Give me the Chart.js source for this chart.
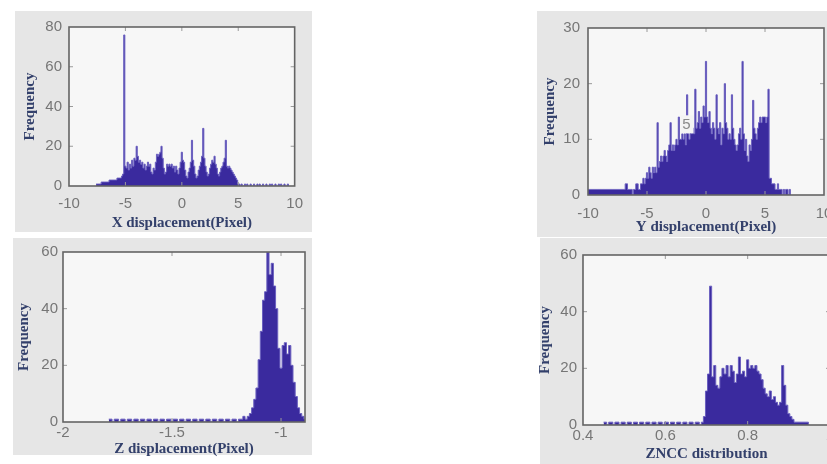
<!DOCTYPE html>
<html>
<head>
<meta charset="utf-8">
<script src="https://cdn.jsdelivr.net/npm/chart.js@4"></script>
<style>
  html, body { margin: 0; padding: 0; background: #fff; width: 827px; height: 464px; overflow: hidden; position: relative; }
  .panel { position: absolute; background: #e6e6e6; }
  canvas { position: absolute; }
</style>
</head>
<body>
<div class="panel" style="left:15px;top:11px;width:297px;height:221px"></div>
<div class="panel" style="left:537px;top:11px;width:300px;height:226px"></div>
<div class="panel" style="left:13px;top:238px;width:299px;height:217px"></div>
<div class="panel" style="left:540px;top:238px;width:300px;height:226px"></div>

<canvas id="histX" width="297" height="221" style="left:15px;top:11px"></canvas>
<canvas id="histY" width="310" height="226" style="left:537px;top:11px"></canvas>
<canvas id="histZ" width="299" height="226" style="left:13px;top:238px"></canvas>
<canvas id="histC" width="320" height="226" style="left:530px;top:238px"></canvas>

<script>
// X displacement: 0.1 px bins, first bin centred at -7.6
const xStart = -7.6, xStep = 0.1;
const xCounts = [
  1,1,1,1,1,2,2,2,2,2,
  2,2,3,3,3,3,3,3,3,4,
  4,4,4,5,6,76,10,9,12,8,
  11,9,13,10,14,13,20,15,12,13,
  11,12,9,11,8,10,12,10,11,7,
  6,9,8,12,16,15,16,17,20,14,
  9,6,7,11,10,11,10,11,9,10,
  7,10,8,6,9,12,17,13,12,8,
  5,4,7,9,12,23,13,10,6,4,
  5,8,10,12,15,29,14,10,7,5,
  6,9,11,13,12,15,11,9,6,5,
  7,9,10,12,14,23,10,9,10,9,
  8,7,6,5,4,3,1,1,0,1,
  0,0,1,0,1,0,0,1,0,0,
  1,0,0,1,0,1,0,0,1,0,
  0,1,0,0,1,0,1,0,0,1,
  0,0,1,0,1,0,0,1,0,0,
  1,0
];
const xTicks = [-10, -5, 0, 5, 10];
const xFreqTicks = [0, 20, 40, 60, 80];

// Y displacement: 0.1 px bins, first bin centred at -10
const yStart = -10, yStep = 0.1;
const yCounts = [
  1,1,1,1,1,1,1,1,1,1,
  1,1,1,1,1,1,1,1,1,1,
  1,1,1,1,1,1,1,1,1,1,
  1,1,2,2,1,1,1,1,0,1,
  1,2,2,1,1,2,2,3,2,3,
  4,3,5,4,3,5,4,5,4,13,
  5,6,7,6,7,8,7,6,8,9,
  13,8,9,8,9,10,9,14,10,10,
  11,10,11,9,18,11,10,12,11,12,
  11,19,12,13,15,12,14,13,16,14,
  24,14,13,15,12,11,13,12,10,18,
  12,11,13,9,12,11,20,13,12,10,
  11,10,18,12,10,9,8,9,11,12,
  10,24,11,8,10,7,6,9,8,10,
  17,12,11,10,12,13,14,13,14,14,
  14,13,14,19,3,3,2,2,2,1,
  1,2,1,1,1,0,1,0,1,1,
  0,1,0
];
const yTicks = [-10, -5, 0, 5, 10];
const yFreqTicks = [0, 10, 20, 30];

// Z displacement: 0.01 px bins, first bin centred at -1.79
const zStart = -1.79, zStep = 0.01;
const zCounts = [
  1,1,0,1,1,0,1,1,0,1,1,0,1,1,0,1,1,0,1,1,0,1,1,0,1,1,0,1,1,0,
  1,1,0,1,1,0,1,1,0,1,1,0,1,1,0,1,1,0,1,1,0,1,1,0,1,1,0,1,1,0,
  1,1,2,1,2,3,5,8,12,22,
  32,43,46,60,52,56,48,40,26,19,
  27,28,24,27,20,14,9,5,3,2,
  1
];
const zTicks = [-2, -1.5, -1];
const zFreqTicks = [0, 20, 40, 60];

// ZNCC: 0.005 bins, first bin centred at 0.45
const cStart = 0.45, cStep = 0.005;
const cCounts = [
  1,1,0,1,1,0,1,1,0,1,1,0,1,1,0,1,1,0,1,1,0,1,1,0,
  1,1,0,1,1,0,1,1,0,1,1,0,1,1,0,1,1,0,1,1,0,1,1,0,1,
  3,12,18,49,17,21,14,13,17,20,
  18,21,17,21,19,15,18,24,18,19,
  17,23,20,21,20,21,19,18,16,13,
  11,10,12,9,10,8,7,8,21,14,
  7,4,3,2,1,1,1,1,1,1,
  1,0
];
const cTicks = [0.4, 0.6, 0.8, 1];
const cFreqTicks = [0, 20, 40, 60];

const FILL = '#3a2a9e';
const EDGE = '#6a5fbf';
const PLOT_BG = '#f7f7f7';
const FRAME = '#646464';
const TICK_FONT = { family: 'Liberation Sans', size: 15 };
const TITLE_FONT = { family: 'Liberation Serif', size: 15, weight: 'bold' };
const TICK_COLOR = '#767676';
const TITLE_COLOR = '#33406b';

// plot background, box frame with inward ticks, optional stray label
const framePlugin = {
  id: 'frame',
  beforeDatasetsDraw(chart) {
    const { ctx, chartArea: a } = chart;
    ctx.save();
    ctx.fillStyle = PLOT_BG;
    ctx.fillRect(a.left, a.top, a.right - a.left, a.bottom - a.top);
    ctx.restore();
  },
  afterDatasetsDraw(chart, args, opts) {
    const { ctx, chartArea: a, scales } = chart;
    ctx.save();
    ctx.strokeStyle = '#9a9a9a';
    ctx.lineWidth = 1;
    ctx.beginPath();
    for (const t of scales.x.ticks) {
      const px = scales.x.getPixelForValue(t.value);
      if (px <= a.left + 1 || px >= a.right - 1) continue;
      ctx.moveTo(px, a.bottom); ctx.lineTo(px, a.bottom - 4);
      ctx.moveTo(px, a.top); ctx.lineTo(px, a.top + 4);
    }
    for (const t of scales.y.ticks) {
      const py = scales.y.getPixelForValue(t.value);
      if (py <= a.top + 1 || py >= a.bottom - 1) continue;
      ctx.moveTo(a.left, py); ctx.lineTo(a.left + 4, py);
      ctx.moveTo(a.right, py); ctx.lineTo(a.right - 4, py);
    }
    ctx.stroke();
    ctx.strokeStyle = FRAME;
    ctx.lineWidth = 1.6;
    ctx.strokeRect(a.left, a.top, a.right - a.left, a.bottom - a.top);

    if (opts.note) {
      const nx = scales.x.getPixelForValue(opts.note.x);
      const ny = scales.y.getPixelForValue(opts.note.y);
      ctx.fillStyle = '#f4f4f4';
      ctx.fillRect(nx - 6, ny - 9, 13, 18);
      ctx.fillStyle = '#8a8a8a';
      ctx.font = '15px "Liberation Sans"';
      ctx.textAlign = 'center';
      ctx.textBaseline = 'middle';
      ctx.fillText(opts.note.text, nx, ny + 1);
    }
    ctx.restore();
  }
};

function histogram(id, o) {
  const canvas = document.getElementById(id);
  const w = canvas.width, h = canvas.height;
  const points = o.counts.map((c, i) => ({ x: o.start + i * o.step, y: c }));

  new Chart(canvas, {
    type: 'line',
    data: {
      datasets: [{
        data: points,
        stepped: 'middle',
        fill: 'origin',
        backgroundColor: FILL,
        borderColor: EDGE,
        borderWidth: 1,
        pointRadius: 0
      }]
    },
    options: {
      responsive: false,
      animation: false,
      devicePixelRatio: 1,
      layout: { padding: { left: 0, top: o.area.top, right: w - o.area.right, bottom: 0 } },
      plugins: {
        legend: { display: false },
        tooltip: { enabled: false },
        frame: { note: o.note || null }
      },
      scales: {
        x: {
          type: 'linear',
          min: o.xMin,
          max: o.xMax,
          afterBuildTicks: s => { s.ticks = o.xTicks.map(v => ({ value: v })); },
          afterFit: s => { s.height = h - o.area.bottom; },
          grid: { display: false, drawTicks: false },
          border: { display: false },
          ticks: {
            font: TICK_FONT, color: TICK_COLOR, padding: o.xPad,
            maxRotation: 0, autoSkip: false, callback: v => String(v)
          },
          title: {
            display: true, text: o.xTitle, font: TITLE_FONT, color: TITLE_COLOR,
            padding: { top: 0, bottom: o.xTitlePad }
          }
        },
        y: {
          min: 0,
          max: o.yMax,
          afterBuildTicks: s => { s.ticks = o.yTicks.map(v => ({ value: v })); },
          afterFit: s => { s.width = o.area.left; },
          grid: { display: false, drawTicks: false },
          border: { display: false },
          ticks: { font: TICK_FONT, color: TICK_COLOR, padding: o.yPad, callback: v => String(v) },
          title: {
            display: true, text: 'Frequency', font: TITLE_FONT, color: TITLE_COLOR,
            padding: { top: o.yTitlePad, bottom: 0 }
          }
        }
      }
    },
    plugins: [framePlugin]
  });
}

histogram('histX', {
  counts: xCounts, start: xStart, step: xStep,
  xMin: -10, xMax: 10, xTicks: xTicks, yMax: 80, yTicks: xFreqTicks,
  area: { left: 54, top: 13, right: 281, bottom: 175 },
  xPad: 9, yPad: 7, xTitlePad: 0, yTitlePad: 6,
  xTitle: 'X displacement(Pixel)'
});

histogram('histY', {
  counts: yCounts, start: yStart, step: yStep,
  xMin: -10, xMax: 10, xTicks: yTicks, yMax: 30, yTicks: yFreqTicks,
  area: { left: 51, top: 14, right: 287, bottom: 184 },
  xPad: 9.5, yPad: 8, xTitlePad: 1, yTitlePad: 4,
  xTitle: 'Y displacement(Pixel)',
  note: { x: -1.65, y: 12.7, text: '5' }
});

histogram('histZ', {
  counts: zCounts, start: zStart, step: zStep,
  xMin: -2, xMax: -0.89, xTicks: zTicks, yMax: 60, yTicks: zFreqTicks,
  area: { left: 50, top: 14, right: 292, bottom: 184 },
  xPad: 1.5, yPad: 5, xTitlePad: 6, yTitlePad: 2,
  xTitle: 'Z displacement(Pixel)'
});

histogram('histC', {
  counts: cCounts, start: cStart, step: cStep,
  xMin: 0.4, xMax: 1, xTicks: cTicks, yMax: 60, yTicks: cFreqTicks,
  area: { left: 53, top: 17, right: 300, bottom: 187 },
  xPad: 2, yPad: 6, xTitlePad: 1, yTitlePad: 6,
  xTitle: 'ZNCC distribution'
});
</script>
</body>
</html>
